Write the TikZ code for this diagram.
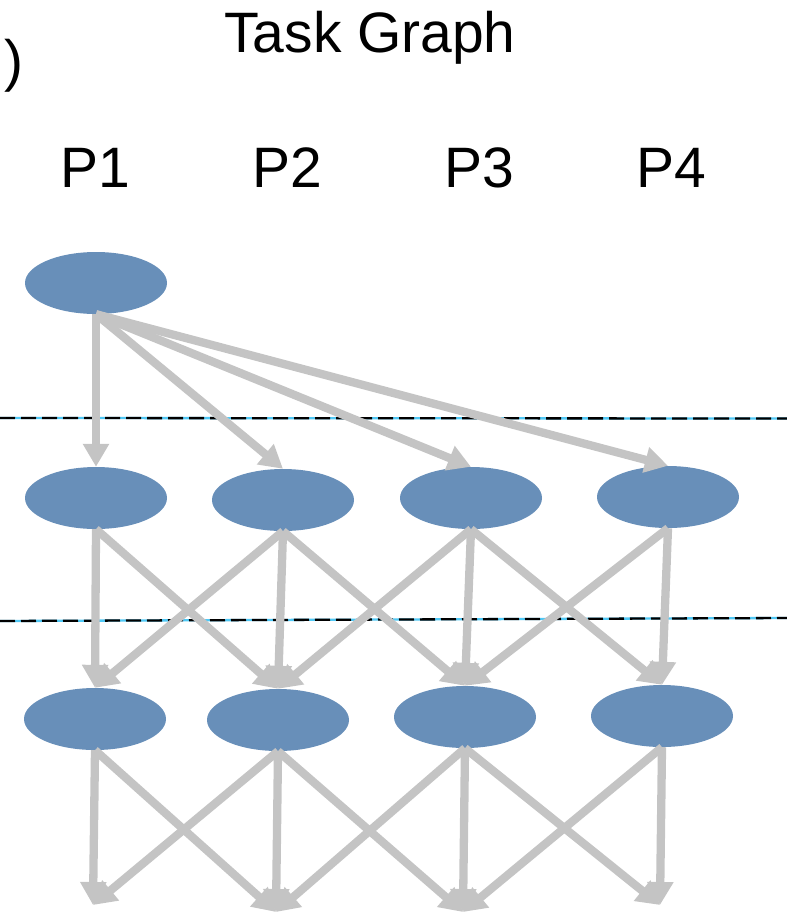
\documentclass[tikz,border=0pt]{standalone}
\usepackage{fontspec}
\setmainfont{Liberation Sans}
\usetikzlibrary{shapes.geometric,arrows.meta}
\definecolor{taskblue}{RGB}{104,143,185}
\definecolor{arrowgray}{RGB}{196,196,196}
\definecolor{linecyan}{RGB}{80,200,245}
\tikzset{
  task/.style={ellipse,fill=taskblue,minimum width=142pt,minimum height=62pt,inner sep=0pt},
  dep/.style={draw=arrowgray,line width=8.3pt,-{Triangle[width=25pt,length=23pt]}},
  sep/.style={line width=2.3pt},
  big/.style={font=\fontsize{57}{60}\selectfont,anchor=base,inner sep=0pt}
}
\begin{document}
\begin{tikzpicture}[x=1pt,y=-1pt]
\useasboundingbox (0,0) rectangle (787,914);
% texts
\node[big] (title) at (370,52) {Task Graph};
\node[big] (paren) at (14,80) {)};
\node[big] (p1) at (95,187) {P1};
\node[big] (p2) at (287,187) {P2};
\node[big] (p3) at (479,187) {P3};
\node[big] (p4) at (671,187) {P4};
% separators
\coordinate (s1l) at (0,418);
\coordinate (s1r) at (787,418.5);
\coordinate (s2l) at (0,621);
\coordinate (s2r) at (787,618);
\draw[sep,linecyan] (s1l) -- (s1r);
\draw[sep,black,dash pattern=on 15pt off 6pt] (s1l) -- (s1r);
\draw[sep,linecyan] (s2l) -- (s2r);
\draw[sep,black,dash pattern=on 15pt off 6pt] (s2l) -- (s2r);
% tasks
\node[task] (t0) at (96,283) {};
\node[task] (a1) at (96,498) {};
\node[task] (a2) at (283,500) {};
\node[task] (a3) at (471,498) {};
\node[task] (a4) at (668,497) {};
\node[task] (b1) at (95,719) {};
\node[task] (b2) at (278,720) {};
\node[task] (b3) at (465,717) {};
\node[task] (b4) at (662,716) {};
\coordinate (c1) at (93,905);
\coordinate (c2) at (276,912);
\coordinate (c3) at (463,912);
\coordinate (c4) at (660,905);
% arrows level 0
\foreach \t in {a1,a2,a3,a4} \draw[dep] (t0.south) -- (\t.north);
% arrows level 1
\draw[dep] (a1.south) -- (b1.north);
\draw[dep] (a1.south) -- (b2.north);
\draw[dep] (a2.south) -- (b1.north);
\draw[dep] (a2.south) -- (b2.north);
\draw[dep] (a2.south) -- (b3.north);
\draw[dep] (a3.south) -- (b2.north);
\draw[dep] (a3.south) -- (b3.north);
\draw[dep] (a3.south) -- (b4.north);
\draw[dep] (a4.south) -- (b3.north);
\draw[dep] (a4.south) -- (b4.north);
% arrows level 2
\draw[dep] (b1.south) -- (c1);
\draw[dep] (b1.south) -- (c2);
\draw[dep] (b2.south) -- (c1);
\draw[dep] (b2.south) -- (c2);
\draw[dep] (b2.south) -- (c3);
\draw[dep] (b3.south) -- (c2);
\draw[dep] (b3.south) -- (c3);
\draw[dep] (b3.south) -- (c4);
\draw[dep] (b4.south) -- (c3);
\draw[dep] (b4.south) -- (c4);
\end{tikzpicture}
\end{document}
